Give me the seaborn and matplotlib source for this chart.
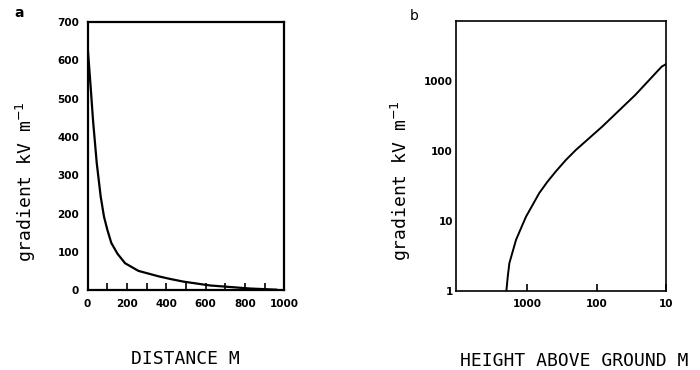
import numpy as np
import pandas as pd
import matplotlib
matplotlib.use("Agg")
import matplotlib.pyplot as plt
import matplotlib.ticker as mticker
import seaborn as sns

# ── Style ─────────────────────────────────────────────────────
sns.set_theme(style="white")
plt.rcParams.update({'font.family': 'DejaVu Sans', 'axes.edgecolor': 'black',
                     'text.color': 'black', 'axes.labelcolor': 'black',
                     'xtick.color': 'black', 'ytick.color': 'black'})

# ── Data ──────────────────────────────────────────────────────
# (a) gradient vs distance
dist_m = [0, 16, 28, 47, 67, 84, 101, 121, 152, 191, 259, 360, 420, 488, 623, 827, 963]
grad_a = [640, 531, 444, 332, 245, 192, 158, 124, 96, 71, 51, 37, 30, 23, 13, 5, 2]

# (b) gradient vs height above ground (log-log)
height_m = [2000, 1910, 1810, 1450, 1230, 1045, 840, 674, 513, 389, 280, 201, 84, 28, 11.7, 10]
grad_b = [1, 1.6, 2.5, 5.4, 7.9, 11.5, 16.9, 25, 36.4, 51, 74, 103, 222, 631, 1600, 1750]

a_xticks = [0, 200, 400, 600, 800, 1000]
a_yticks = [0, 100, 200, 300, 400, 500, 600, 700]
b_xticks = [1000, 100, 10]
b_yticks = [1, 10, 100, 1000]

df_a = pd.DataFrame({'dist': dist_m, 'grad': grad_a})
df_b = pd.DataFrame({'height': height_m, 'grad': grad_b})

fig = plt.figure(figsize=(7, 3.7), dpi=100)
ax_a = fig.add_axes([0.125, 0.215, 0.281, 0.7255])
ax_b = fig.add_axes([0.651, 0.2135, 0.301, 0.73])

mono = 'DejaVu Sans Mono'
label_font = dict(family=mono, fontsize=13)
tick_font = dict(fontsize=7.5, fontweight='bold')

# ── (a) ───────────────────────────────────────────────────────
sns.lineplot(data=df_a, x='dist', y='grad', ax=ax_a, color='black',
             lw=1.6, estimator=None)
ax_a.set_xlim(0, 1000)
ax_a.set_ylim(0, 700)
ax_a.set_xticks(a_xticks)
ax_a.set_xticks(np.arange(100, 1000, 100), minor=True)
ax_a.set_yticks(a_yticks)
ax_a.set_xticklabels([str(t) for t in a_xticks], **tick_font)
ax_a.set_yticklabels([str(t) for t in a_yticks], **tick_font)
ax_a.tick_params(axis='x', which='both', direction='in', length=5, width=1.2,
                 bottom=True, pad=6)
ax_a.tick_params(axis='y', length=0, pad=6)
for s in ax_a.spines.values():
    s.set_linewidth(1.6)
ax_a.set_xlabel("DISTANCE M", labelpad=30, **label_font)
ax_a.set_ylabel("gradient kV m$^{-1}$", **label_font)
ax_a.yaxis.set_label_coords(-0.25, 0.404)
fig.text(0.02, 0.955, "a", fontsize=10, fontweight='bold')

# ── (b) ───────────────────────────────────────────────────────
sns.lineplot(data=df_b, x='height', y='grad', ax=ax_b, color='black',
             lw=1.4, estimator=None)
ax_b.set_xscale('log')
ax_b.set_yscale('log')
ax_b.set_xlim(10700, 10)
ax_b.set_ylim(1, 7200)
ax_b.set_xticks(b_xticks)
ax_b.set_yticks(b_yticks)
ax_b.xaxis.set_minor_locator(mticker.NullLocator())
ax_b.yaxis.set_minor_locator(mticker.NullLocator())
ax_b.set_xticklabels([str(t) for t in b_xticks], **tick_font)
ax_b.set_yticklabels([str(t) for t in b_yticks], **tick_font)
ax_b.tick_params(axis='x', direction='in', length=5, width=1.2, bottom=True, pad=6)
ax_b.tick_params(axis='y', length=0, pad=2)
for s in ax_b.spines.values():
    s.set_linewidth(1.2)
ax_b.set_xlabel("HEIGHT ABOVE GROUND M", labelpad=31, **label_font)
ax_b.xaxis.label.set_x(0.564)
ax_b.set_ylabel("gradient kV m$^{-1}$", **label_font)
ax_b.yaxis.set_label_coords(-0.204, 0.407)
fig.text(0.585, 0.945, "b", fontsize=10)

fig.savefig("out.png", dpi=100)
